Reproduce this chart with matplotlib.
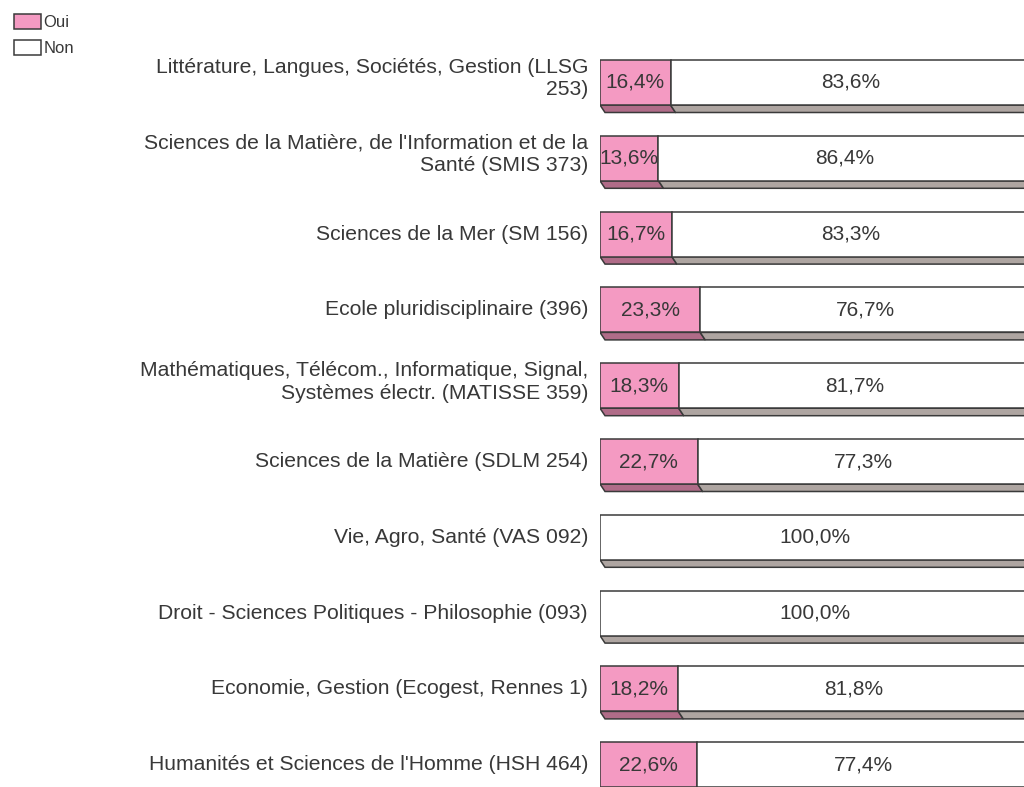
import numpy as np
import matplotlib
matplotlib.use("Agg")
import matplotlib.pyplot as plt
from matplotlib.patches import Polygon, Patch

plt.rcParams['font.family'] = ['Liberation Sans', 'DejaVu Sans']

# Data
categories = [
    "Littérature, Langues, Sociétés, Gestion (LLSG\n253)",
    "Sciences de la Matière, de l'Information et de la\nSanté (SMIS 373)",
    "Sciences de la Mer (SM 156)",
    "Ecole pluridisciplinaire (396)",
    "Mathématiques, Télécom., Informatique, Signal,\nSystèmes électr. (MATISSE 359)",
    "Sciences de la Matière (SDLM 254)",
    "Vie, Agro, Santé (VAS 092)",
    "Droit - Sciences Politiques - Philosophie (093)",
    "Economie, Gestion (Ecogest, Rennes 1)",
    "Humanités et Sciences de l'Homme (HSH 464)",
]
oui = [16.4, 13.6, 16.7, 23.3, 18.3, 22.7, 0.0, 0.0, 18.2, 22.6]
non = [83.6, 86.4, 83.3, 76.7, 81.7, 77.3, 100.0, 100.0, 81.8, 77.4]

# colours
PINK = "#F49AC2"
PINK_DARK = "#B06C88"
WHITE = "#FFFFFF"
GREY_DARK = "#AEA5A1"
EDGE = "#3A3A3A"
TEXT = "#383838"

W, H = 1024, 787
fig = plt.figure(figsize=(W / 100, H / 100), dpi=100)

# plot area in pixels: x 0..100% -> 600..1030, rows every ~75.8 px
left_px, right_px = 600, 1030
row_px = 75.8
first_center = 82.5
top_px = first_center - row_px / 2
bot_px = first_center + (len(categories) - 0.5) * row_px
ax = fig.add_axes([left_px / W, (H - bot_px) / H,
                   (right_px - left_px) / W, (bot_px - top_px) / H])
ax.set_xlim(0, 100)
ax.set_ylim(len(categories) - 0.5, -0.5)
ax.axis("off")

bar_h = 45 / row_px
px_per_pct = (right_px - left_px) / 100
dx = 5 / px_per_pct   # depth offset in data units
dy = 7.5 / row_px
y = np.arange(len(categories))

# 3D bottom faces
for i in range(len(categories)):
    yb = y[i] + bar_h / 2
    segs = [(0, oui[i], PINK_DARK), (oui[i], oui[i] + non[i], GREY_DARK)]
    for x0, x1, col in segs:
        if x1 - x0 <= 0:
            continue
        poly = Polygon([(x0, yb), (x1, yb), (x1 + dx, yb + dy), (x0 + dx, yb + dy)],
                       closed=True, facecolor=col, edgecolor=EDGE, linewidth=1.1)
        ax.add_patch(poly)

# front faces
ax.barh(y, oui, height=bar_h, color=PINK, edgecolor=EDGE, linewidth=1.1)
ax.barh(y, non, left=oui, height=bar_h, color=WHITE, edgecolor=EDGE, linewidth=1.1)

# percentage labels
for i in range(len(categories)):
    if oui[i] > 0:
        ax.text(oui[i] / 2, y[i], f"{oui[i]:.1f}%".replace(".", ","),
                ha="center", va="center", fontsize=15, color=TEXT)
    ax.text(oui[i] + non[i] / 2, y[i], f"{non[i]:.1f}%".replace(".", ","),
            ha="center", va="center", fontsize=15, color=TEXT)

# category labels on the left
for i, lab in enumerate(categories):
    n_lines = lab.count("\n") + 1
    ax.text(-12 / px_per_pct, y[i] - 0.05 * (n_lines - 1), lab, ha="right", va="center",
            fontsize=15.2, color=TEXT, linespacing=1.22)

# legend
handles = [Patch(facecolor=PINK, edgecolor=EDGE, linewidth=1.1, label="Oui"),
           Patch(facecolor=WHITE, edgecolor=EDGE, linewidth=1.1, label="Non")]
fig.legend(handles=handles, loc="upper left", bbox_to_anchor=(0.0, 1.0),
           frameon=False, fontsize=12, handlelength=1.62, handleheight=0.96,
           handletextpad=0.15, labelspacing=0.6, borderaxespad=0.45,
           labelcolor=TEXT)

fig.savefig("out.png", dpi=100)
